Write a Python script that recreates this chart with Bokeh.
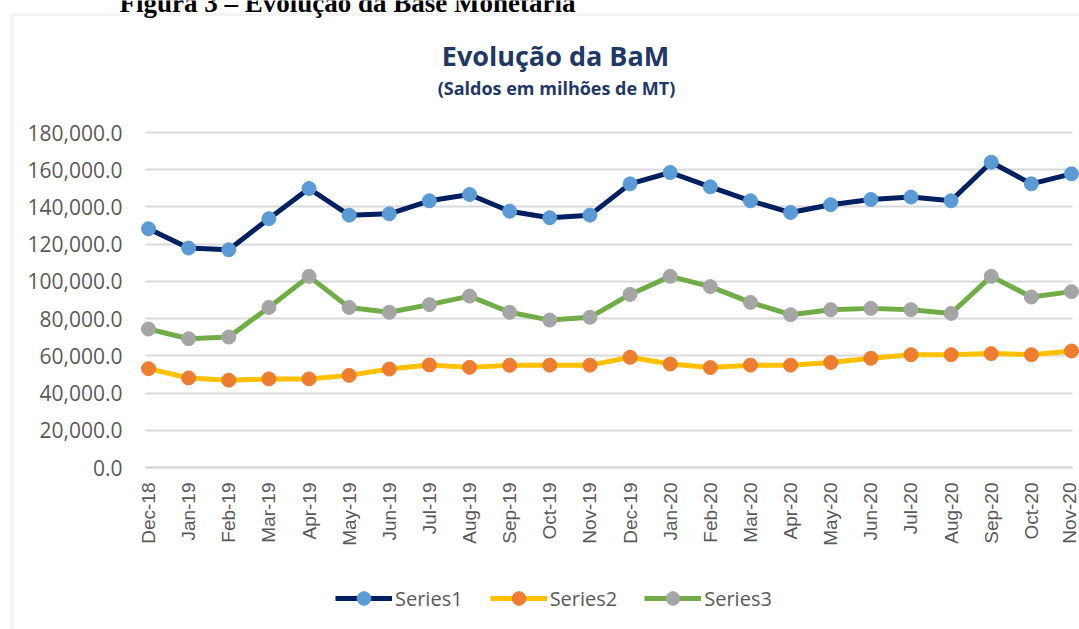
from math import pi
from bokeh.plotting import figure
from bokeh.models import (Range1d, FixedTicker, NumeralTickFormatter, Label,
                          Legend, LegendItem, BoxAnnotation)
from bokeh.embed import file_html
from bokeh.resources import INLINE

months = ["Dec-18", "Jan-19", "Feb-19", "Mar-19", "Apr-19", "May-19", "Jun-19",
          "Jul-19", "Aug-19", "Sep-19", "Oct-19", "Nov-19", "Dec-19", "Jan-20",
          "Feb-20", "Mar-20", "Apr-20", "May-20", "Jun-20", "Jul-20", "Aug-20",
          "Sep-20", "Oct-20", "Nov-20"]
series1 = [128300, 117900, 117000, 133700, 149900, 135600, 136300, 143300, 146700,
           137700, 134200, 135600, 152400, 158500, 150800, 143300, 137000, 141200,
           144000, 145300, 143300, 164000, 152400, 157800]
series2 = [53100, 48100, 46900, 47600, 47600, 49500, 52900, 55100, 53800, 54900,
           55000, 55000, 59200, 55600, 53700, 55000, 55000, 56400, 58700, 60600,
           60600, 61200, 60600, 62600]
series3 = [74400, 69200, 70100, 86000, 102700, 86000, 83400, 87500, 92100, 83400,
           79200, 80700, 93000, 102700, 97200, 88700, 82100, 84800, 85500, 84800,
           82800, 102700, 91600, 94500]
names = ["Series1", "Series2", "Series3"]
y_ticks = [0, 20000, 40000, 60000, 80000, 100000, 120000, 140000, 160000, 180000]

W, H = 1079, 629
# plot-area geometry (canvas pixels)
PX_L, PX_R, PY_T, PY_B = 145, 1072, 132, 467
X0, XN = 148, 1071
ux = (XN - X0) / 23.0
uy = 180000.0 / (PY_B - PY_T)
x_start = -X0 / ux
x_end = 23 + (W - XN) / ux
y_start = -(H - PY_B) * uy
y_end = 180000 + PY_T * uy
x_left = (PX_L - X0) / ux
x_right = 23 + (PX_R - XN) / ux

p = figure(width=W, height=H, output_backend="svg", toolbar_location=None,
           x_range=Range1d(x_start, x_end), y_range=Range1d(y_start, y_end),
           min_border=0)
p.outline_line_color = None
p.background_fill_color = "white"
p.border_fill_color = "white"
p.xgrid.visible = False
p.ygrid.visible = False

xs = list(range(len(months)))

xa = p.xaxis[0]
xa.fixed_location = 0
xa.bounds = (x_left, x_right)
xa.level = "underlay"
xa.ticker = FixedTicker(ticks=xs)
xa.major_label_overrides = {i: m for i, m in enumerate(months)}
xa.major_label_orientation = pi / 2
xa.major_label_text_font = "Liberation Sans"
xa.major_label_text_font_size = "19px"
xa.major_label_text_color = "#595959"
xa.axis_line_color = "#D9D9D9"
xa.axis_line_width = 2
xa.major_tick_line_color = None
xa.major_tick_out = 0
xa.major_tick_in = 0
xa.minor_tick_line_color = None
xa.major_label_standoff = 15

ya = p.yaxis[0]
ya.fixed_location = x_left
ya.bounds = (0, 180000)
ya.level = "underlay"
ya.ticker = FixedTicker(ticks=y_ticks)
ya.formatter = NumeralTickFormatter(format="0,0.0")
ya.major_label_text_font = "Open Sans"
ya.major_label_text_font_size = "21px"
ya.major_label_text_color = "#595959"
ya.axis_line_color = None
ya.major_tick_line_color = "#D9D9D9"   # horizontal gridlines across the plot area
ya.major_tick_line_width = 2
ya.major_tick_out = 0
ya.major_tick_in = PX_R - PX_L
ya.minor_tick_line_color = None
ya.major_label_standoff = 23

styles = [("#002060", "#5B9BD5"), ("#FFC000", "#ED7D31"), ("#70AD47", "#A5A5A5")]
items = []
for name, ys, (lc, mc) in zip(names, [series1, series2, series3], styles):
    ln = p.line(xs, ys, line_color=lc, line_width=5)
    sc = p.scatter(xs, ys, size=14, fill_color=mc, line_color=mc)
    items.append(LegendItem(label=name, renderers=[ln, sc]))

legend = Legend(items=items, orientation="horizontal", location=(335, 14),
                border_line_color=None, background_fill_alpha=0,
                label_text_font="Open Sans", label_text_font_size="20px",
                label_text_color="#595959", glyph_width=57, glyph_height=34,
                label_standoff=3, spacing=27, padding=4, margin=0)
p.add_layout(legend, "center")

# chart-area border
p.add_layout(BoxAnnotation(left=11, right=3000, top=H - 14, bottom=-3000,
                           left_units="screen", right_units="screen",
                           top_units="screen", bottom_units="screen",
                           fill_alpha=0, line_color="#D9D9D9", line_width=3))

p.add_layout(Label(x=555, y=H - 55, x_units="screen", y_units="screen",
                   text="Evolução da BaM", text_align="center",
                   text_baseline="middle", text_font="Open Sans",
                   text_font_size="27px", text_font_style="bold",
                   text_color="#1F3864"))
p.add_layout(Label(x=556, y=H - 87, x_units="screen", y_units="screen",
                   text="(Saldos em milhões de MT)", text_align="center",
                   text_baseline="middle", text_font="Open Sans",
                   text_font_size="18px", text_font_style="bold",
                   text_color="#1F3864"))
p.add_layout(Label(x=347, y=H - 2, x_units="screen", y_units="screen",
                   text="Figura 3 – Evolução da Base Monetária", text_align="center",
                   text_baseline="alphabetic", text_font="Liberation Serif",
                   text_font_size="27px", text_font_style="bold",
                   text_color="black"))

open("out.html", "w").write(file_html(p, INLINE))
